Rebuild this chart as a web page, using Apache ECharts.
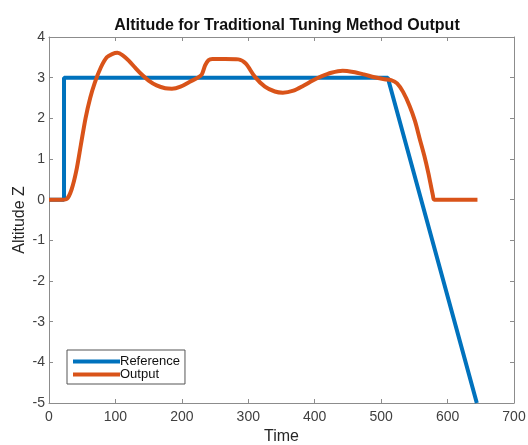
<!DOCTYPE html>
<html>
<head>
<meta charset="utf-8">
<script src="https://cdn.jsdelivr.net/npm/echarts@6/dist/echarts.min.js"></script>
<style>html,body{margin:0;padding:0;background:#fff;}#c{width:528px;height:445px;}</style>
</head>
<body>
<div id="c"></div>
<script>
var xTicks = [0, 100, 200, 300, 400, 500, 600, 700];
var yTicks = [-5, -4, -3, -2, -1, 0, 1, 2, 3, 4];
var referenceData = [[0,0],[22.6,0],[22.6,3],[510,3],[644,-5]];
var outputData = [[0,0],[20,0],[27,0.02],[34,0.25],[41,0.7],[48,1.35],[55,2.0],[62,2.5],[69,2.88],[78,3.25],[87,3.5],[95,3.58],[103,3.61],[111,3.55],[120,3.42],[130,3.24],[140,3.07],[150,2.93],[162,2.81],[175,2.74],[185,2.73],[198,2.78],[212,2.9],[224,3.0],[230,3.08],[235,3.3],[240,3.43],[246,3.46],[265,3.46],[285,3.45],[296,3.35],[310,3.02],[325,2.78],[340,2.66],[352,2.63],[368,2.68],[383,2.8],[397,2.93],[410,3.03],[425,3.12],[442,3.17],[458,3.14],[474,3.08],[490,3.01],[505,2.96],[515,2.94],[524,2.86],[533,2.65],[543,2.3],[551,1.93],[558,1.5],[565,1.08],[571,0.66],[578,0.1],[580,0],[645,0]];

var font = 'Liberation Sans, Arial, sans-serif';
var axisGray = '#8c8c8c';
var labelColor = '#404040';
function xAx(pos, show) {
  return {type:'value', position:pos, min:xTicks[0], max:xTicks[xTicks.length-1], interval:xTicks[1]-xTicks[0],
    axisLine:{show:true, onZero:false, lineStyle:{color:axisGray, width:1}},
    axisTick:{show:true, inside:true, length:4, lineStyle:{color:axisGray}},
    axisLabel:{show:show, color:labelColor, fontFamily:font, fontSize:14, margin:7},
    splitLine:{show:false},
    name: show ? 'Time' : '', nameLocation:'middle', nameGap:26,
    nameTextStyle:{color:'#262626', fontFamily:font, fontSize:16}};
}
function yAx(pos, show) {
  return {type:'value', position:pos, min:yTicks[0], max:yTicks[yTicks.length-1], interval:yTicks[1]-yTicks[0],
    axisLine:{show:true, onZero:false, lineStyle:{color:axisGray, width:1}},
    axisTick:{show:true, inside:true, length:4, lineStyle:{color:axisGray}},
    axisLabel:{show:show, color:labelColor, fontFamily:font, fontSize:14, margin:4},
    splitLine:{show:false},
    name: show ? 'Altitude Z' : '', nameLocation:'middle', nameGap:21, nameMoveOverlap:false,
    nameTextStyle:{color:'#262626', fontFamily:font, fontSize:16}};
}
var chart = echarts.init(document.getElementById('c'));
chart.setOption({
  backgroundColor:'#fff',
  animation:false,
  title:{text:'Altitude for Traditional Tuning Method Output', left:282, top:13, textAlign:'center',
    textStyle:{fontFamily:font, fontSize:16, fontWeight:'bold', color:'#111'}},
  grid:{left:49, right:14, top:37, bottom:42, containLabel:false, outerBoundsMode:'none'},
  xAxis:[xAx('bottom', true), xAx('top', false)],
  yAxis:[yAx('left', true), yAx('right', false)],
  legend:{orient:'vertical', left:67, top:350, itemWidth:47, itemHeight:4, itemGap:0,
    icon:'rect', borderColor:'#555', borderWidth:1, padding:[5,5,3,6],
    backgroundColor:'#fff',
    textStyle:{fontFamily:font, fontSize:13, lineHeight:13, color:'#111', padding:[0,0,0,-5]},
    data:['Reference','Output']},
  series:[
    {name:'Reference', type:'line', data:referenceData, symbol:'none', xAxisIndex:0, yAxisIndex:0,
      lineStyle:{color:'#0072BD', width:4}, itemStyle:{color:'#0072BD'}},
    {name:'Output', type:'line', data:outputData, symbol:'none', smooth:0.3, xAxisIndex:0, yAxisIndex:0,
      lineStyle:{color:'#D95319', width:4}, itemStyle:{color:'#D95319'}}
  ]
});
</script>
</body>
</html>
